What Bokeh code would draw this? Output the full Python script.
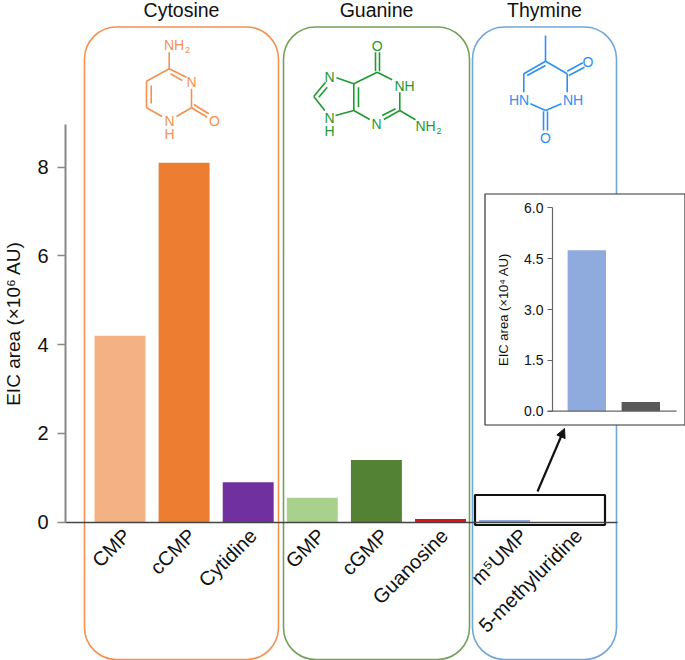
import math
from bokeh.embed import file_html
from bokeh.resources import INLINE
from bokeh.plotting import figure
from bokeh.models import (Range1d, LinearAxis, FixedTicker, Arrow, NormalHead, NumeralTickFormatter)
from bokeh.core.properties import value

# ---------- data ----------
categories = ["CMP", "cCMP", "Cytidine", "GMP", "cGMP", "Guanosine", "m\u2075UMP", "5-methyluridine"]
main_values = [4.2, 8.1, 0.9, 0.55, 1.4, 0.07, 0.0475, 0.0027]
main_colors = ["#F4B183", "#ED7D31", "#7030A0", "#A9D18E", "#548235", "#E0101A", "#8FAADC", "#595959"]
main_ticks = [0, 2, 4, 6, 8]
inset_values = [4.75, 0.27]
inset_colors = ["#8FAADC", "#595959"]
inset_ticks = [0.0, 1.5, 3.0, 4.5, 6.0]
groups = ["Cytosine", "Guanine", "Thymine"]
label_shift_px = [7, 8, 5, 9, 8, 4, 19, 10]

FONT = "Liberation Sans"
W, H = 685, 660
STEP, X0 = 64.1, 119.5      # pixels per category, pixel of the first category
PPU, Y0 = 44.375, 521.7     # pixels per main unit, pixel of main zero
IPPU, IY0 = 33.9, 410.7     # pixels per inset unit, pixel of inset zero

p = figure(width=W, height=H, output_backend="svg", toolbar_location=None,
           x_range=Range1d(-X0 / STEP, (W - X0) / STEP),
           y_range=Range1d((Y0 - H) / PPU, Y0 / PPU),
           x_axis_location=None, y_axis_location=None, min_border=0)
p.outline_line_color = None
p.grid.visible = False
p.background_fill_color = "white"
p.extra_x_ranges["px"] = Range1d(0, W)
p.extra_y_ranges["px"] = Range1d(H, 0)
p.extra_y_ranges["inset"] = Range1d((IY0 - H) / IPPU, IY0 / IPPU)
PX = dict(x_range_name="px", y_range_name="px")

# ---------- group frames ----------
frames_l = [84, 283, 472]
frames_r = [278, 469, 616]
frames_c = ["#F4914F", "#76A05A", "#6FA8DC"]
p.quad(left=frames_l, right=frames_r, top=[26.5] * 3, bottom=[659] * 3, fill_color=None,
       line_color=frames_c, line_width=1.6, border_radius=32, **PX)
p.text(x=[181, 376, 544], y=[9.5, 9.5, 9.5], text=groups, text_font=value(FONT), text_font_size="19.5px",
       text_align="center", text_baseline="middle", text_color="#111111", **PX)

# ---------- main bars ----------
p.vbar(x=list(range(8)), top=main_values, bottom=0, width=0.795, fill_color=main_colors,
       line_color=None)

# ---------- molecules ----------
def mol(bonds, atoms, color):
    p.segment(x0=[b[0] for b in bonds], y0=[b[1] for b in bonds], x1=[b[2] for b in bonds],
              y1=[b[3] for b in bonds], line_color=color, line_width=1.6, **PX)
    for x, y, t, s in atoms:
        p.text(x=[x], y=[y], text=[t], text_font=value(FONT), text_font_size=f"{s}px", text_color=color,
               text_align="center", text_baseline="middle", **PX)

mol([(168.7, 68.3, 168.7, 51.7), (168.7, 68.3, 146, 80.7), (146, 80.7, 146, 107.3), (150.7, 85, 150.7, 103),
     (146, 107.3, 161.7, 116), (176, 116, 191, 107.3), (191, 107.3, 191, 88.3), (186, 76.7, 168.7, 68.3),
     (181.7, 80, 170, 73.3), (191, 107.3, 206.7, 116.7), (193.3, 104, 208.3, 113.3)],
    [(173.5, 44, "NH", 14), (187, 49, "2", 9), (191, 81.5, "N", 14), (169, 120, "N", 14), (169, 133, "H", 14),
     (214, 120, "O", 14)], "#F4914F")

mol([(375, 51.7, 375, 70.7), (379, 51.7, 379, 70.7), (376.7, 71.7, 353.3, 83.3), (353.3, 83.3, 353.3, 110),
     (358, 86.7, 358, 106.7), (376.7, 71.7, 391.7, 79.3), (399.3, 91.7, 399.3, 110), (399.3, 110, 383.3, 119),
     (395, 108.3, 381.7, 115), (399.3, 110, 415, 119.3), (369.3, 119, 353.3, 110), (353.3, 110, 335, 115),
     (353.3, 83.3, 336, 77.3), (325, 81.7, 313.3, 96), (326.7, 86.7, 318.3, 96.7), (313.3, 96, 324.3, 110)],
    [(376.7, 45, "O", 14), (329, 76, "N", 14), (329, 117.5, "N", 14), (329, 130, "H", 14),
     (404, 85, "NH", 14), (376, 123.5, "N", 14), (425, 125, "NH", 14), (438.5, 130, "2", 9)], "#1E9A2E")

mol([(545, 35, 545, 60.7), (545, 60.7, 523.3, 73.3), (545, 65, 526.7, 75), (545, 60.7, 566.7, 73.3),
     (566.7, 70.7, 582.3, 62.3), (568.3, 75, 584, 66.7), (566.7, 73.3, 566.7, 91.7),
     (523.3, 73.3, 523.3, 91.7), (530, 103.3, 545, 110), (561, 103.3, 545, 110),
     (543, 110.7, 543, 130), (547, 110.7, 547, 130)],
    [(587.5, 61.5, "O", 14), (518.5, 99.5, "HN", 14), (572.5, 99.5, "NH", 14), (545, 137.5, "O", 14)],
    "#2E90F0")

# ---------- main axes ----------
yaxis = LinearAxis(fixed_location=(65 - X0) / STEP, bounds=(0, (Y0 - 124) / PPU),
                   ticker=FixedTicker(ticks=main_ticks), axis_label="EIC area (\u00d710\u2076 AU)")
yaxis.axis_line_color = "#888888"
yaxis.axis_line_width = 2
yaxis.major_tick_line_color = "#888888"
yaxis.major_tick_line_width = 1.5
yaxis.major_tick_out = 8
yaxis.major_tick_in = 0
yaxis.minor_tick_line_color = None
yaxis.major_label_text_font = FONT
yaxis.major_label_text_font_size = "20px"
yaxis.major_label_text_color = "#111111"
yaxis.major_label_standoff = 9
yaxis.axis_label_text_font = FONT
yaxis.axis_label_text_font_size = "19px"
yaxis.axis_label_text_font_style = "normal"
yaxis.axis_label_text_color = "#111111"
yaxis.axis_label_standoff = 10
p.add_layout(yaxis, "left")

tick_pos = [i + s / STEP for i, s in enumerate(label_shift_px)]
xaxis = LinearAxis(fixed_location=0, bounds=((65 - X0) / STEP, (617 - X0) / STEP),
                   ticker=FixedTicker(ticks=tick_pos),
                   major_label_overrides={t: c for t, c in zip(tick_pos, categories)})
xaxis.axis_line_color = "#444444"
xaxis.axis_line_width = 1.5
xaxis.major_tick_line_color = None
xaxis.minor_tick_line_color = None
xaxis.major_label_orientation = math.pi / 4
xaxis.major_label_text_font = FONT
xaxis.major_label_text_font_size = "20px"
xaxis.major_label_text_color = "#111111"
xaxis.major_label_standoff = 4
p.add_layout(xaxis, "below")

# ---------- highlight box and arrow ----------
p.quad(left=[474.5], right=[604.5], top=[494.5], bottom=[524.5], fill_color=None, line_color="#111111",
       line_width=2.2, **PX)
p.add_layout(Arrow(end=NormalHead(size=9, fill_color="#111111", line_color="#111111"),
                   x_start=537, y_start=491, x_end=564, y_end=428, line_color="#111111", line_width=2.2,
                   x_range_name="px", y_range_name="px"))

# ---------- inset ----------
p.quad(left=[484.5], right=[684.5], top=[193.5], bottom=[424.5], fill_color="white", line_color="#333333",
       line_width=1.2, **PX)
INSET_X = dict(x_range_name="px", y_range_name="inset")
p.vbar(x=[586.3, 640.3], top=inset_values, bottom=0, width=38.4, fill_color=inset_colors, line_color=None,
       **INSET_X)
ia = LinearAxis(y_range_name="inset", x_range_name="px", fixed_location=552, bounds=(0, 6),
                ticker=FixedTicker(ticks=inset_ticks), axis_label="EIC area (\u00d710\u2074 AU)",
                formatter=NumeralTickFormatter(format="0.0"))
ia.axis_line_color = "#666666"
ia.axis_line_width = 1.2
ia.major_tick_line_color = "#666666"
ia.major_tick_out = 5
ia.major_tick_in = 0
ia.minor_tick_line_color = None
ia.major_label_text_font = FONT
ia.major_label_text_font_size = "14px"
ia.major_label_text_color = "#111111"
ia.major_label_standoff = 4
ia.axis_label_text_font = FONT
ia.axis_label_text_font_size = "13px"
ia.axis_label_text_font_style = "normal"
ia.axis_label_text_color = "#111111"
ia.axis_label_standoff = 10
p.add_layout(ia, "left")
p.segment(x0=[547], y0=[0], x1=[676], y1=[0], line_color="#666666", line_width=1.2, **INSET_X)

html = file_html(p, INLINE).replace("<head>", "<head><style>html,body{margin:0;padding:0;overflow:hidden}</style>", 1)
open("out.html", "w").write(html)
